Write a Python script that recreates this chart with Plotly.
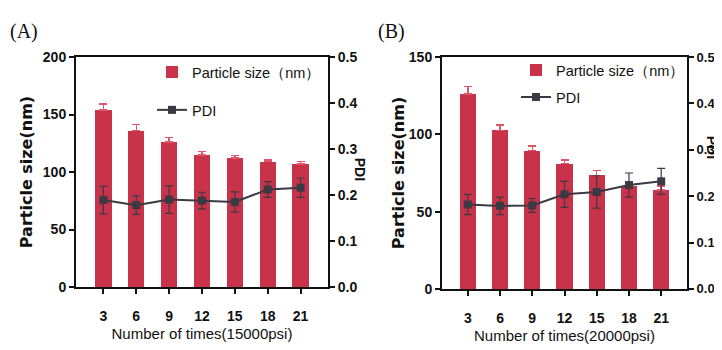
import plotly.graph_objects as go

times = [3, 6, 9, 12, 15, 18, 21]
tick_labels = ["3", "6", "9", "12", "15", "18", "21"]

A_size = [154, 136, 126, 115, 112, 109, 107]
A_size_err = [5, 5.5, 4, 3, 2.5, 1.5, 2]
A_pdi = [0.189, 0.178, 0.190, 0.188, 0.185, 0.212, 0.216]
A_pdi_err = [0.030, 0.020, 0.030, 0.018, 0.022, 0.017, 0.021]

B_size = [126, 102.5, 89.5, 81, 73.5, 66.5, 64]
B_size_err = [5, 3.5, 3, 2.5, 3, 2, 2.5]
B_pdi = [0.182, 0.179, 0.180, 0.204, 0.209, 0.224, 0.232]
B_pdi_err = [0.022, 0.019, 0.015, 0.028, 0.035, 0.026, 0.028]

BAR = "#C9334A"
BAR_ERR = "#E0566A"
LINE = "#3B3944"
SANS = "Liberation Sans, Arial, sans-serif"
W, H = 722, 350

fig = go.Figure()

def add_panel(xa, ya, ya2, size, size_err, pdi, pdi_err, legend):
    fig.add_trace(go.Bar(
        x=times, y=size, width=1.5, marker=dict(color=BAR, line=dict(width=0)),
        error_y=dict(type="data", array=size_err, arrayminus=[0]*len(size_err), symmetric=False,
                     color=BAR_ERR, thickness=1.5, width=4),
        name="Particle size（nm）", xaxis=xa, yaxis=ya, legend=legend, legendgroup="a" + legend))
    fig.add_trace(go.Scatter(
        x=times, y=pdi, mode="lines+markers",
        line=dict(color=LINE, width=2), marker=dict(symbol="square", size=8, color=LINE),
        error_y=dict(type="data", array=pdi_err, color=LINE, thickness=1.2, width=4),
        name="PDI", xaxis=xa, yaxis=ya2, legend=legend, legendgroup="b" + legend))

add_panel("x", "y", "y2", A_size, A_size_err, A_pdi, A_pdi_err, "legend")
add_panel("x2", "y3", "y4", B_size, B_size_err, B_pdi, B_pdi_err, "legend2")

tickfont = dict(family=SANS, size=14, color="#111", weight="bold")
axline = dict(showline=True, linecolor="#111", linewidth=2, ticks="outside", ticklen=5,
              tickwidth=2, tickcolor="#111", showgrid=False, zeroline=False)
xtitle_font = dict(family=SANS, size=15, color="#111")
ytitle_font = dict(family="DejaVu Sans", size=16, color="#111", weight="bold")
pdi_ticks = [0, 0.1, 0.2, 0.3, 0.4, 0.5]
pdi_labels = ["0.0", "0.1", "0.2", "0.3", "0.4", "0.5"]

def px_x(a, b):
    return [a / W, b / W]

def px_y(top, bottom):
    return [1 - bottom / H, 1 - top / H]

fig.update_layout(
    width=W, height=H, margin=dict(l=0, r=0, t=0, b=0),
    plot_bgcolor="white", paper_bgcolor="white", bargap=0,
    xaxis=dict(domain=px_x(68, 320), anchor="y", range=[0.5, 23.5], tickvals=times,
               ticktext=tick_labels, mirror=True, ticklabelstandoff=10, tickfont=tickfont, **axline,
               title=dict(text="Number of times(15000psi)", font=xtitle_font, standoff=6)),
    yaxis=dict(domain=px_y(43, 284), anchor="x", range=[0, 200], tickvals=[0, 50, 100, 150, 200],
               tickfont=tickfont, **axline,
               title=dict(text="Particle size(nm)", font=ytitle_font, standoff=6)),
    yaxis2=dict(overlaying="y", side="right", anchor="x", range=[0, 0.5],
                tickvals=pdi_ticks, ticktext=pdi_labels, tickfont=tickfont, **axline),
    xaxis2=dict(domain=px_x(434, 679), anchor="y3", range=[0.6, 23.4], tickvals=times,
                ticktext=tick_labels, mirror=True, ticklabelstandoff=10, tickfont=tickfont, **axline,
                title=dict(text="Number of times(20000psi)", font=xtitle_font, standoff=6)),
    yaxis3=dict(domain=px_y(43, 286), anchor="x2", range=[0, 150], tickvals=[0, 50, 100, 150],
                tickfont=tickfont, **axline,
                title=dict(text="Particle size(nm)", font=ytitle_font, standoff=0)),
    yaxis4=dict(overlaying="y3", side="right", anchor="x2", range=[0, 0.5],
                tickvals=pdi_ticks, ticktext=pdi_labels, tickfont=dict(tickfont, size=13), **axline),
    legend=dict(x=144 / W, y=1 - 42 / H, xanchor="left", yanchor="top", bgcolor="rgba(0,0,0,0)",
                font=dict(family=SANS, size=14.5, color="#111"), tracegroupgap=16, itemwidth=30),
    legend2=dict(x=508 / W, y=1 - 40 / H, xanchor="left", yanchor="top", bgcolor="rgba(0,0,0,0)",
                 font=dict(family=SANS, size=14.5, color="#111"), tracegroupgap=5, itemwidth=30),
    showlegend=True,
)

ann_font = dict(family="Liberation Serif, Times New Roman, serif", size=20, color="#111")
fig.add_annotation(text="(A)", x=0 / W, y=1 - 2 / H, xref="paper", yref="paper", xanchor="left", yanchor="top",
                   showarrow=False, font=ann_font)
fig.add_annotation(text="(B)", x=368 / W, y=1 - 2 / H, xref="paper", yref="paper", xanchor="left", yanchor="top",
                   showarrow=False, font=ann_font)
pdi_font = dict(family=SANS, size=14, color="#111", weight="bold")
fig.add_annotation(text="PDI", x=352 / W, y=1 - 160 / H, xref="paper", yref="paper", textangle=90,
                   xanchor="center", yanchor="middle", showarrow=False, font=pdi_font)
fig.add_annotation(text="PDI", x=704 / W, y=1 - 137 / H, xref="paper", yref="paper", textangle=90,
                   xanchor="center", yanchor="middle", showarrow=False, font=pdi_font)

fig.write_html("out.html")
